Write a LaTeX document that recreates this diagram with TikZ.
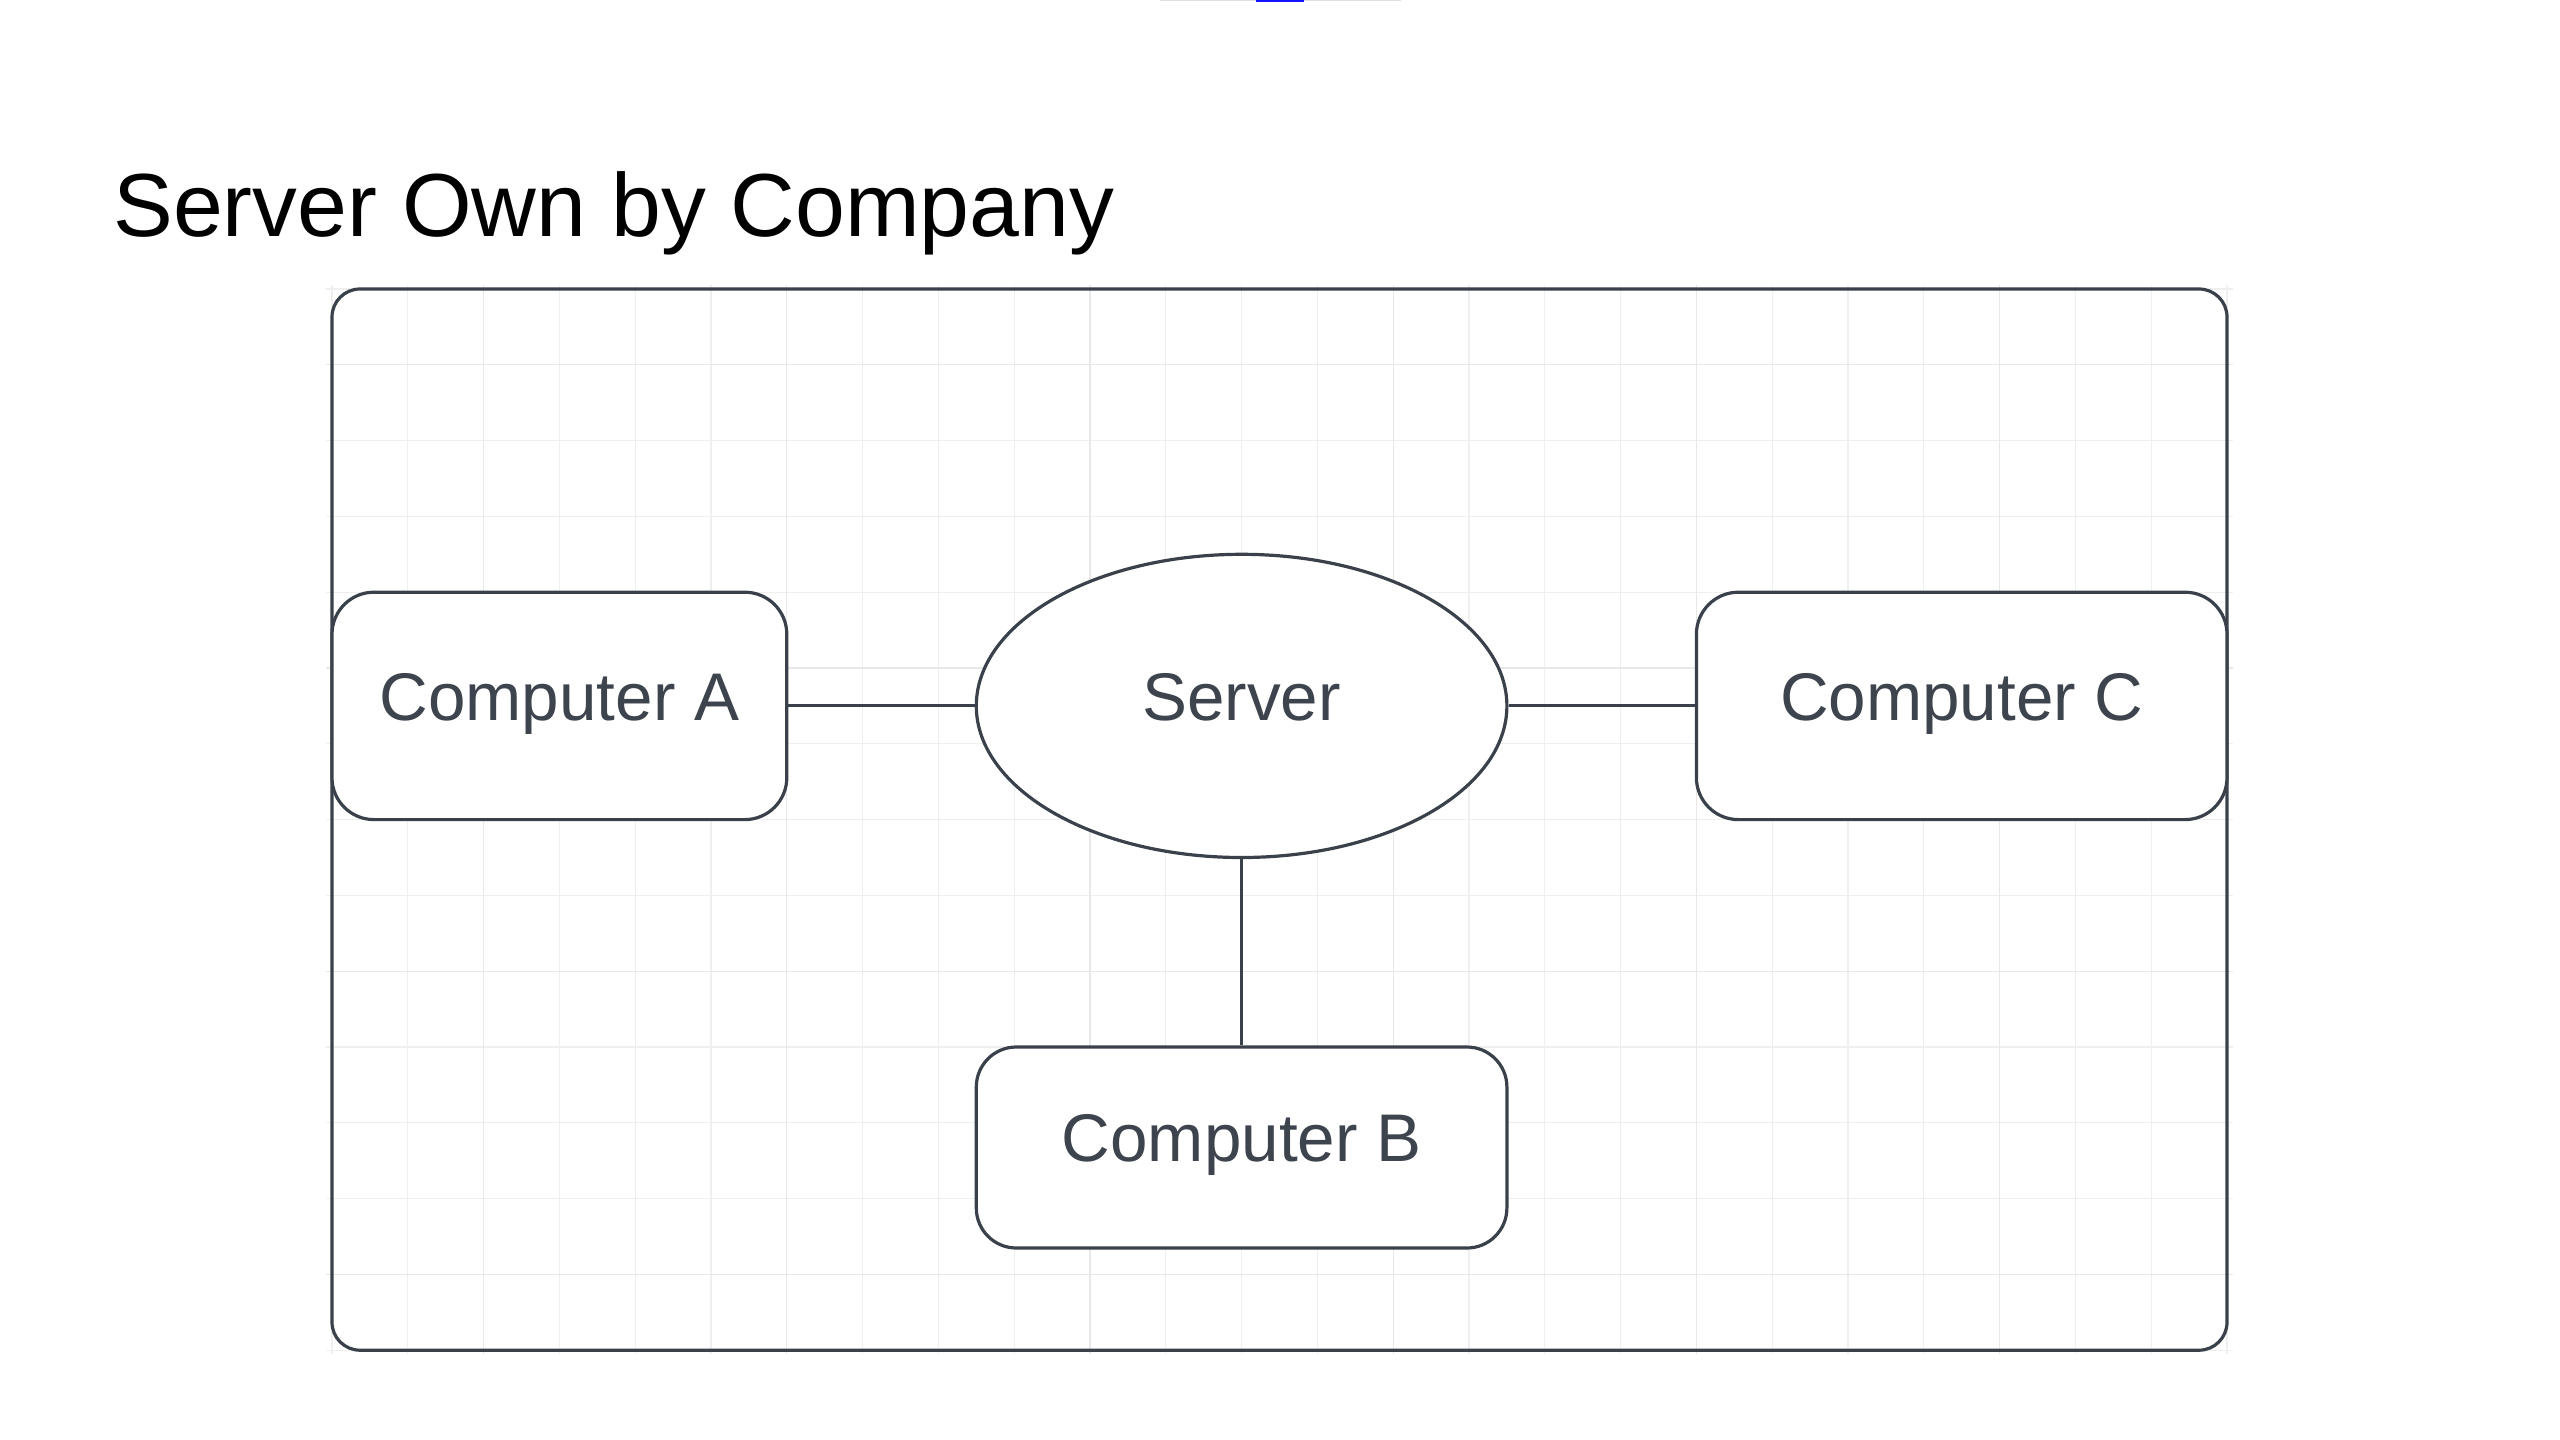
\documentclass[tikz,border=0pt]{standalone}
\usepackage{fontspec}
\setmainfont{Liberation Sans}
\usetikzlibrary{shapes.geometric}
\definecolor{edge}{RGB}{58,65,75}
\definecolor{label}{RGB}{62,68,78}
\definecolor{gridminor}{RGB}{239,239,239}
\definecolor{gridmajor}{RGB}{232,232,232}
\definecolor{barblue}{RGB}{20,20,255}
\definecolor{bargray}{RGB}{225,225,225}
\begin{document}
\begin{tikzpicture}[x=0.5pt,y=-0.5pt,
  nodetext/.style={text=label, font=\fontsize{33.7}{40}\selectfont, text height=24.3pt, text depth=10pt, inner sep=0pt},
  card/.style={nodetext, draw=edge, line width=1.6pt, fill=white, rounded corners=21pt, minimum height=113.7pt},
  hub/.style={nodetext, ellipse, draw=edge, line width=1.6pt, fill=white, minimum width=265.3pt, minimum height=151.6pt},
  link/.style={draw=edge, line width=1.5pt},
  minorline/.style={draw=gridminor, line width=0.6pt},
  majorline/.style={draw=gridmajor, line width=0.6pt},
  frameline/.style={draw=edge, line width=1.6pt, rounded corners=14pt}]
\useasboundingbox (0,0) rectangle (2560,1440);
\fill[white] (0,0) rectangle (2560,1440);
% top bar
\fill[bargray] (1160,0) rectangle (1401,1.4);
\fill[barblue] (1256,0) rectangle (1304,1.8);
% grid
\foreach \k in {0,...,25} {\draw[minorline] ({332+\k*75.8},285) -- ({332+\k*75.8},1354);}
\foreach \k in {0,...,14} {\draw[minorline] (326,{289+\k*75.8}) -- (2233,{289+\k*75.8});}
\foreach \k in {2,6,10,14,18,22} {\draw[majorline] ({332+\k*75.8},285) -- ({332+\k*75.8},1354);}
\foreach \k in {1,5,9,13} {\draw[majorline] (326,{289+\k*75.8}) -- (2233,{289+\k*75.8});}
% frame
\draw[frameline] (332,289) rectangle (2227,1350.2);
% title
\node[anchor=base west, inner sep=0pt, font=\fontsize{44.8}{54}\selectfont] (title) at (113,236) {Server Own by Company};
% nodes
\node[card, minimum width=227.4pt] (A) at (559.4,705.9) {Computer A};
\node[hub] (S) at (1241.6,705.9) {Server};
\node[card, minimum width=265.3pt] (C) at (1961.7,705.9) {Computer C};
\node[card, minimum width=265.3pt, minimum height=100.5pt, rounded corners=20pt] (B) at (1241.6,1147.5) {Computer B};
% connectors
\draw[link] (A.east) -- (S.west);
\draw[link] (S.east) -- (C.west);
\draw[link] (S.south) -- (B.north);
\end{tikzpicture}
\end{document}
